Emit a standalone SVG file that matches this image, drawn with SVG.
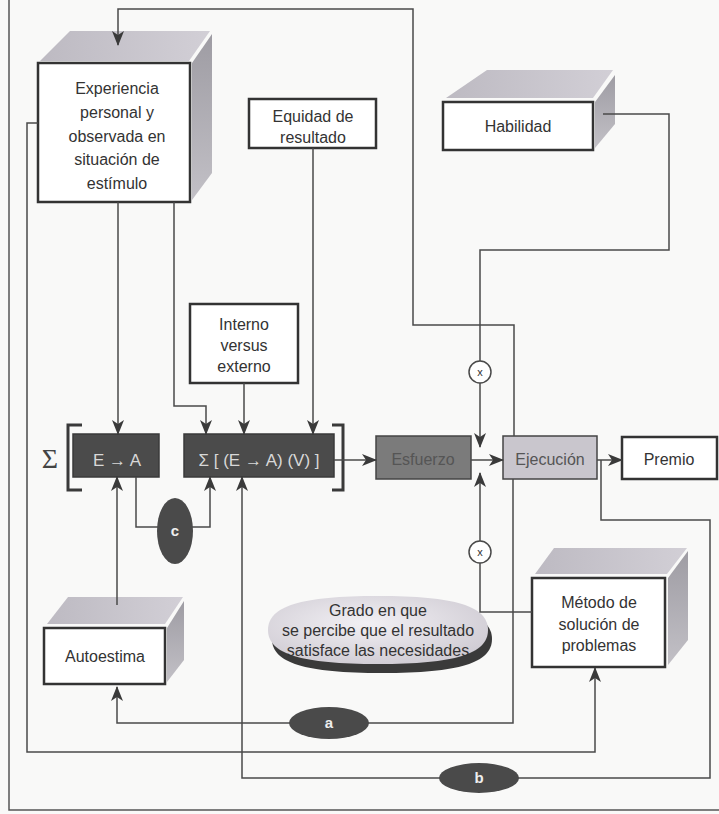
<svg xmlns="http://www.w3.org/2000/svg" width="719" height="814" viewBox="0 0 719 814">
<defs>
<marker id="ah" markerUnits="userSpaceOnUse" markerWidth="16" markerHeight="12" refX="14" refY="6" orient="auto">
<path d="M0,0 L15,6 L0,12 L4,6 z" fill="#3a3a3a"/>
</marker>
<linearGradient id="side" x1="0" y1="0" x2="0" y2="1">
<stop offset="0" stop-color="#9e9ca3"/>
<stop offset="1" stop-color="#c2c0c6"/>
</linearGradient>
<linearGradient id="topf" x1="0" y1="0" x2="1" y2="0">
<stop offset="0" stop-color="#bdbac2"/>
<stop offset="1" stop-color="#d2cfd6"/>
</linearGradient>
<radialGradient id="grado" cx="0.45" cy="0.4" r="0.65">
<stop offset="0" stop-color="#f2f0f4"/>
<stop offset="1" stop-color="#cfcbd3"/>
</radialGradient>
</defs>
<style>
.t{font-family:"Liberation Sans",Arial,sans-serif;font-size:16px;fill:#333;text-anchor:middle}
.box{fill:#fff;stroke:#333;stroke-width:2.5}
.top{fill:url(#topf)}
.side{fill:url(#side)}
.ln{fill:none;stroke:#4a4a4a;stroke-width:1.5}
.ar{marker-end:url(#ah)}
.dark{fill:#4b4b4b;stroke:#3a3a3a;stroke-width:1.5}
.dt{font-family:"Liberation Sans",Arial,sans-serif;font-size:17px;fill:#d8d8d8;text-anchor:middle}
.lab{fill:#4a4a4a}
.lt{font-family:"Liberation Sans",Arial,sans-serif;font-size:15px;font-weight:bold;fill:#eee;text-anchor:middle}
.xc{fill:#fff;stroke:#4a4a4a;stroke-width:1.5}
.xt{font-family:"Liberation Sans",Arial,sans-serif;font-size:11px;fill:#333;text-anchor:middle}
</style>
<rect width="719" height="814" fill="#f9f9f8"/>
<!-- frame -->
<path d="M9,0 V810 H719" fill="none" stroke="#555" stroke-width="1.5"/>

<g id="experiencia">
<polygon class="top" points="40,61 70,31 210,31 189,61"/>
<polygon class="side" points="192,63 212,34 212,173 192,200"/>
<rect class="box" x="38" y="63" width="152" height="139"/>
<text class="t" x="117" y="94">Experiencia</text>
<text class="t" x="117" y="118">personal y</text>
<text class="t" x="117" y="142">observada en</text>
<text class="t" x="117" y="165">situación de</text>
<text class="t" x="117" y="189">estímulo</text>
</g>

<g id="equidad">
<rect class="box" x="249" y="99" width="127" height="49"/>
<text class="t" x="313" y="122">Equidad de</text>
<text class="t" x="313" y="143">resultado</text>
</g>

<g id="habilidad">
<polygon class="top" points="446,98 487,70 613,70 593,98"/>
<polygon class="side" points="595,102 615,75 615,124 595,148"/>
<rect class="box" x="443" y="102" width="150" height="48"/>
<text class="t" x="518" y="132">Habilidad</text>
</g>

<g id="interno">
<rect class="box" x="190" y="304" width="108" height="79"/>
<text class="t" x="244" y="330">Interno</text>
<text class="t" x="244" y="351">versus</text>
<text class="t" x="244" y="372">externo</text>
</g>

<g id="ea">
<text x="50" y="468" font-family="'Liberation Serif',serif" font-size="28" fill="#444" text-anchor="middle">Σ</text>
<path d="M82,425 H68 V490 H82" fill="none" stroke="#3a3a3a" stroke-width="3"/>
<rect class="dark" x="73" y="434" width="86" height="43"/>
<text class="dt" x="117" y="466">E → A</text>
</g>

<g id="suma">
<rect class="dark" x="184" y="434" width="150" height="43"/>
<text class="dt" x="259" y="466">Σ [ (E → A) (V) ]</text>
<path d="M332,425 H343 V490 H332" fill="none" stroke="#3a3a3a" stroke-width="3"/>
</g>

<g id="esfuerzo">
<rect x="376" y="436" width="95" height="43" fill="#7b7b7b" stroke="#444" stroke-width="1.5"/>
<text class="t" x="423" y="465" style="fill:#555">Esfuerzo</text>
</g>

<g id="ejecucion">
<rect x="503" y="436" width="94" height="43" fill="#c9c6cd" stroke="#444" stroke-width="1.5"/>
<text class="t" x="550" y="465" style="fill:#555">Ejecución</text>
</g>

<g id="premio">
<rect class="box" x="622" y="437" width="95" height="42"/>
<text class="t" x="669" y="465">Premio</text>
</g>

<g id="autoestima">
<polygon class="top" points="47,624 68,597 183,597 165,624"/>
<polygon class="side" points="167,628 184,601 184,660 167,682"/>
<rect class="box" x="44" y="628" width="121" height="56"/>
<text class="t" x="105" y="662">Autoestima</text>
</g>

<g id="grado">
<path transform="translate(4,9)" d="M268,630 C268,606 301,596 378,596 C455,596 488,606 488,630 C488,654 455,664 378,664 C301,664 268,654 268,630 Z" fill="#3a3a3a"/>
<path d="M268,630 C268,606 301,596 378,596 C455,596 488,606 488,630 C488,654 455,664 378,664 C301,664 268,654 268,630 Z" fill="url(#grado)"/>
<text class="t" x="378" y="616">Grado en que</text>
<text class="t" x="378" y="636">se percibe que el resultado</text>
<text class="t" x="378" y="656">satisface las necesidades</text>
</g>

<g id="metodo">
<polygon class="top" points="535,574 554,548 687,548 667,574"/>
<polygon class="side" points="668,578 688,551 688,640 668,665"/>
<rect class="box" x="532" y="578" width="133" height="89"/>
<text class="t" x="599" y="608">Método de</text>
<text class="t" x="599" y="630">solución de</text>
<text class="t" x="599" y="651">problemas</text>
</g>

<g id="connectors">
<path class="ln ar" d="M514,436 V325 H413 V9 H118 V45"/>
<path class="ln ar" d="M118,202 V434"/>
<path class="ln ar" d="M174,202 V406 H206 V434"/>
<path class="ln ar" d="M38,123 H27 V752 H595 V668"/>
<path class="ln ar" d="M313,148 V434"/>
<path class="ln ar" d="M244,383 V434"/>
<path class="ln" d="M603,114 H669 V250 H480 V361"/>
<path class="ln ar" d="M480,383 V447"/>
<path class="ln" d="M532,612 H480 V563"/>
<path class="ln ar" d="M480,541 V473"/>
<path class="ln ar" d="M334,460 H376"/>
<path class="ln ar" d="M471,460 H503"/>
<path class="ln ar" d="M597,460 H622"/>
<path class="ln ar" d="M513,479 V723 H117 V687"/>
<path class="ln ar" d="M601,460 V520 H710 V778 H242 V477"/>
<path class="ln ar" d="M117,605 V477"/>
<path class="ln ar" d="M136,477 V527 H210 V477"/>
<circle class="xc" cx="480" cy="372" r="11"/>
<text class="xt" x="480" y="376">x</text>
<circle class="xc" cx="480" cy="552" r="11"/>
<text class="xt" x="480" y="556">x</text>
</g>

<g id="c">
<ellipse class="lab" cx="175" cy="531" rx="18" ry="33"/>
<text class="lt" x="175" y="536">c</text>
</g>

<g id="a">
<ellipse class="lab" cx="329" cy="723" rx="40" ry="16"/>
<text class="lt" x="329" y="728">a</text>
</g>

<g id="b">
<ellipse class="lab" cx="479" cy="778" rx="40" ry="15"/>
<text class="lt" x="479" y="783">b</text>
</g>
</svg>
